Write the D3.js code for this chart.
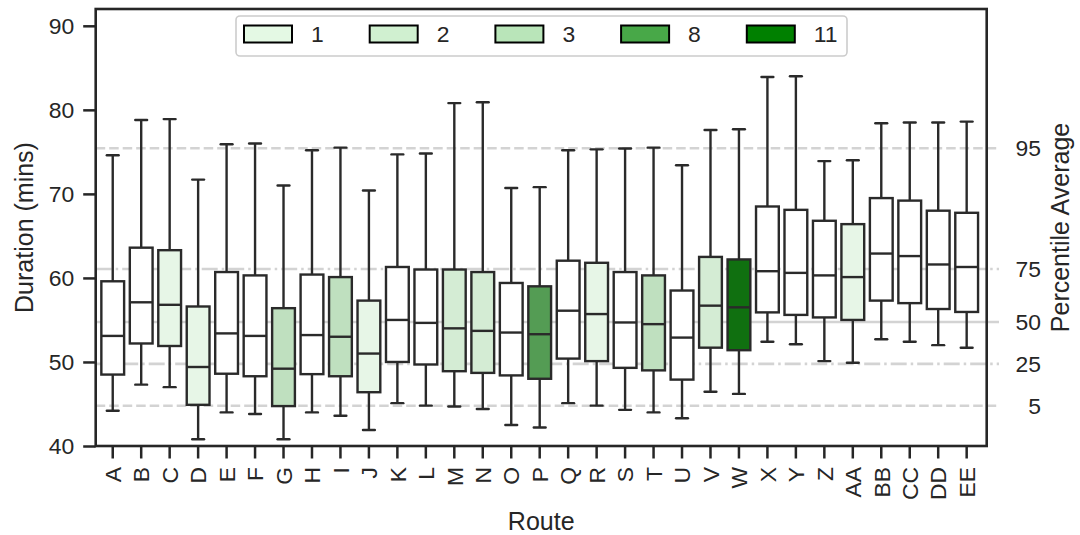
<!DOCTYPE html>
<html>
<head>
<meta charset="utf-8">
<script src="https://cdn.jsdelivr.net/npm/d3@7"></script>
<style>
  html, body { margin: 0; padding: 0; background: #ffffff; }
  svg { display: block; font-family: "Liberation Sans", Arial, sans-serif; }
</style>
</head>
<body>
<svg id="chart" width="1080" height="535"></svg>
<script>
const routes = ["A","B","C","D","E","F","G","H","I","J","K","L","M","N","O","P","Q","R","S","T","U","V","W","X","Y","Z","AA","BB","CC","DD","EE"];
const whiskerHigh = [74.6,78.8,78.9,71.7,75.9,76.0,71.0,75.2,75.5,70.4,74.7,74.8,80.8,80.9,70.7,70.8,75.2,75.3,75.4,75.5,73.4,77.6,77.7,83.9,84.0,73.9,74.0,78.4,78.5,78.5,78.6];
const q3 = [59.6,63.6,63.3,56.6,60.7,60.3,56.4,60.4,60.1,57.3,61.3,61.0,61.0,60.7,59.4,59.0,62.05,61.8,60.7,60.3,58.5,62.5,62.2,68.5,68.1,66.8,66.4,69.5,69.2,68.0,67.75];
const median = [53.1,57.1,56.8,49.4,53.4,53.1,49.2,53.2,53.0,51.0,55.0,54.65,54.0,53.7,53.5,53.3,56.1,55.7,54.7,54.5,52.9,56.7,56.5,60.8,60.6,60.3,60.1,62.9,62.6,61.6,61.3];
const q1 = [48.5,52.2,51.9,44.9,48.6,48.3,44.75,48.55,48.3,46.4,50.0,49.7,48.9,48.7,48.4,48.0,50.4,50.1,49.3,49.0,47.9,51.7,51.4,55.9,55.6,55.3,55.0,57.3,57.0,56.3,55.95];
const whiskerLow = [44.2,47.3,47.0,40.8,44.0,43.8,40.8,44.0,43.6,41.9,45.1,44.8,44.7,44.4,42.5,42.2,45.1,44.8,44.3,44.0,43.3,46.45,46.2,52.4,52.1,50.1,49.9,52.7,52.4,52.0,51.7];
const level = [null,null,1,1,null,null,3,null,3,1,null,null,2,2,null,8,null,1,null,3,null,2,11,null,null,null,1,null,null,null,null];
const legendLevels = [1,2,3,8,11];
const legendColors = ["#e4f9e4","#d0f0d0","#b9e5b9","#48a848","#008000"];
const percentileLabels = ["95","75","50","25","5"];
const percentileValues = [75.43,61.06,54.76,49.77,44.79];
const percentileStyles = ["dash","dashdot","solid","dashdot","dash"];
const yTicks = [40,50,60,70,80,90];

const svg = d3.select("#chart");
const ink = "#262626";
const L = 95.7, R = 986.7, T = 9, B = 446;

const y = d3.scaleLinear().domain([40, 92]).range([B, T]);
const x = d3.scaleBand().domain(routes).range([98.5, 980.9]).paddingInner(0).paddingOuter(0);
const bw = x.bandwidth();
const boxW = bw * 0.8;
const capW = boxW * 0.52;

const colorOf = d3.scaleOrdinal().domain(legendLevels).range(legendColors);
function desat(c) { const h = d3.hsl(c); h.s *= 0.75; return h.formatHex(); }

// reference percentile lines
const dashes = { dash: "9.5,4", dashdot: "16,4,2.5,4", solid: null };
const refG = svg.append("g");
percentileValues.forEach((v, i) => {
  refG.append("line")
    .attr("x1", L).attr("x2", 999)
    .attr("y1", y(v)).attr("y2", y(v))
    .attr("stroke", "#d3d3d3").attr("stroke-width", 2.6)
    .attr("stroke-dasharray", dashes[percentileStyles[i]]);
  svg.append("text")
    .attr("x", 1041).attr("y", y(v)).attr("dy", "0.36em")
    .attr("text-anchor", "end").attr("font-size", 22.9).attr("fill", ink)
    .text(percentileLabels[i]);
});

// boxes
const boxes = svg.append("g");
routes.forEach((r, i) => {
  const cx = x(r) + bw / 2;
  const fill = level[i] == null ? "#ffffff" : desat(colorOf(level[i]));
  const g = boxes.append("g").attr("stroke", "#2a2a2a").attr("stroke-width", 2.4);
  g.append("line").attr("x1", cx).attr("x2", cx).attr("y1", y(q3[i])).attr("y2", y(whiskerHigh[i]));
  g.append("line").attr("x1", cx).attr("x2", cx).attr("y1", y(q1[i])).attr("y2", y(whiskerLow[i]));
  g.append("line").attr("x1", cx - capW/2).attr("x2", cx + capW/2).attr("y1", y(whiskerHigh[i])).attr("y2", y(whiskerHigh[i])).attr("stroke-linecap", "round");
  g.append("line").attr("x1", cx - capW/2).attr("x2", cx + capW/2).attr("y1", y(whiskerLow[i])).attr("y2", y(whiskerLow[i])).attr("stroke-linecap", "round");
  g.append("rect").attr("x", cx - boxW/2).attr("width", boxW)
    .attr("y", y(q3[i])).attr("height", y(q1[i]) - y(q3[i]))
    .attr("fill", fill);
  g.append("line").attr("x1", cx - boxW/2).attr("x2", cx + boxW/2).attr("y1", y(median[i])).attr("y2", y(median[i]));
});

// y axis
const yAxis = svg.append("g").attr("transform", `translate(${L},0)`)
  .call(d3.axisLeft(y).tickValues(yTicks).tickSize(12.5).tickPadding(9).tickFormat(d3.format("d")));
yAxis.select(".domain").remove();
yAxis.selectAll(".tick line").attr("stroke", ink).attr("stroke-width", 2.5);
yAxis.selectAll(".tick text").attr("font-size", 22.9).attr("fill", ink).attr("font-family", "Liberation Sans, Arial, sans-serif");

// x axis
const xAxis = svg.append("g").attr("transform", `translate(0,${B})`)
  .call(d3.axisBottom(x).tickSize(12.5).tickPadding(8));
xAxis.select(".domain").remove();
xAxis.selectAll(".tick line").attr("stroke", ink).attr("stroke-width", 2.5);
xAxis.selectAll(".tick text")
  .attr("font-size", 22.9).attr("fill", ink).attr("font-family", "Liberation Sans, Arial, sans-serif")
  .attr("text-anchor", "end")
  .attr("transform", "rotate(-90)")
  .attr("x", -21).attr("y", 0).attr("dy", "0.36em");

// frame
svg.append("rect").attr("x", L).attr("y", T).attr("width", R - L).attr("height", B - T)
  .attr("fill", "none").attr("stroke", ink).attr("stroke-width", 2.6);

// axis labels
svg.append("text").attr("transform", `translate(33,${(T+B)/2}) rotate(-90)`)
  .attr("text-anchor", "middle").attr("font-size", 25).attr("fill", ink).text("Duration (mins)");
svg.append("text").attr("transform", `translate(1069,${(T+B)/2}) rotate(-90)`)
  .attr("text-anchor", "middle").attr("font-size", 25).attr("fill", ink).text("Percentile Average");
svg.append("text").attr("x", (L+R)/2).attr("y", 530)
  .attr("text-anchor", "middle").attr("font-size", 25).attr("fill", ink).text("Route");

// legend
const lg = svg.append("g");
lg.append("rect").attr("x", 236).attr("y", 16).attr("width", 611).attr("height", 40)
  .attr("rx", 4).attr("fill", "#ffffff").attr("fill-opacity", 0.8)
  .attr("stroke", "#cccccc").attr("stroke-width", 1.6);
legendLevels.forEach((lv, i) => {
  const px = 244 + i * 125.7;
  lg.append("rect").attr("x", px).attr("y", 25.5).attr("width", 48).attr("height", 17)
    .attr("fill", colorOf(lv)).attr("stroke", "#000000").attr("stroke-width", 2);
  lg.append("text").attr("x", px + 67).attr("y", 34).attr("dy", "0.36em")
    .attr("font-size", 22.9).attr("fill", ink).text(String(lv));
});
</script>
</body>
</html>
